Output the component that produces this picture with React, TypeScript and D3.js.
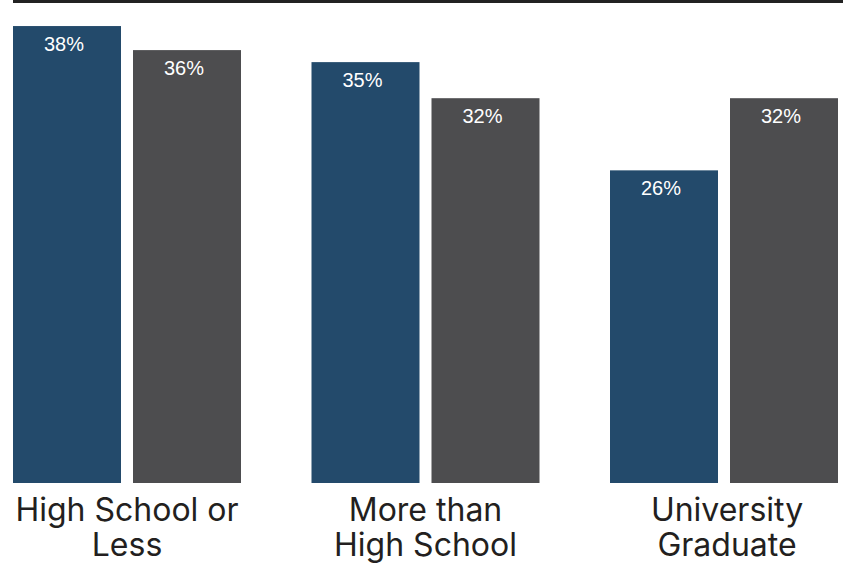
import React from "react";
import * as d3 from "d3";

const categories: string[][] = [
  ["High School or", "Less"],
  ["More than", "High School"],
  ["University", "Graduate"],
];
const categoryKeys = ["hs", "more", "uni"];
const series = ["A", "B"];
const seriesA = [38, 35, 26];
const seriesB = [36, 32, 32];
const colors = ["#234a6b", "#4d4d4f"];

const W = 854;
const H = 563;

export default function App() {
  const x0 = d3.scaleBand<string>().domain(categoryKeys).range([13, 838]).paddingInner(70.5 / 298.5).paddingOuter(0);
  const x1 = d3.scaleBand<string>().domain(series).range([0, x0.bandwidth()]).paddingInner(0.1).paddingOuter(0);
  const y = d3.scaleLinear().domain([0, 40]).range([483, 2]);
  const values = [seriesA, seriesB];

  return (
    <svg width={W} height={H} style={{ position: "absolute", left: 0, top: 0, background: "#fff" }}>
      <rect x={13} y={0} width={830} height={3} fill="#222" />
      {categoryKeys.map((k, i) => (
        <g key={k} transform={`translate(${x0(k)},0)`}>
          {series.map((s, j) => {
            const v = values[j][i];
            const bx = x1(s)!;
            const bw = x1.bandwidth();
            return (
              <g key={s}>
                <rect x={bx} y={y(v)} width={bw} height={y(0) - y(v)} fill={colors[j]} />
                <text
                  x={bx + bw / 2 - 3}
                  y={y(v) + 25}
                  textAnchor="middle"
                  fill="#fff"
                  fontFamily="'Liberation Sans', Arial, sans-serif"
                  fontSize={20}
                >
                  {v}%
                </text>
              </g>
            );
          })}
          {categories[i].map((line, li) => (
            <text
              key={li}
              x={x0.bandwidth() / 2 + (i === 2 ? 3 : 0)}
              y={521 + li * 35}
              textAnchor="middle"
              fill="#231f20"
              fontFamily="Inter, 'Open Sans', sans-serif"
              fontSize={32}
            >
              {line}
            </text>
          ))}
        </g>
      ))}
    </svg>
  );
}
